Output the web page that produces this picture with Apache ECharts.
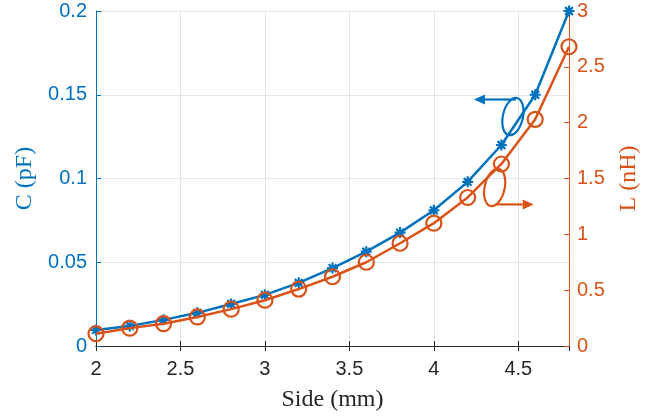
<!DOCTYPE html>
<html>
<head>
<meta charset="utf-8">
<script src="https://cdn.jsdelivr.net/npm/echarts@6/dist/echarts.min.js"></script>
<style>
	html, body { margin: 0; padding: 0; background: #fff; }
	#container { width: 664px; height: 417px; }
</style>
</head>
<body>
<div id="container"></div>
<script>
// 数据
var sideMm = [2, 2.2, 2.4, 2.6, 2.8, 3, 3.2, 3.4, 3.6, 3.8, 4, 4.2, 4.4, 4.6, 4.8];
var capPF = [0.0096, 0.012, 0.0156, 0.0198, 0.0251, 0.0305, 0.0377, 0.0465, 0.0563, 0.0677, 0.081, 0.098, 0.12, 0.15, 0.2];
var indNH = [0.11, 0.16, 0.2, 0.26, 0.33, 0.41, 0.51, 0.62, 0.75, 0.92, 1.1, 1.33, 1.63, 2.03, 2.68];

var blue = '#0072BD';
var orange = '#D95319';
var tickFont = 'Liberation Sans, Arial, sans-serif';
var nameFont = 'Liberation Serif, Times New Roman, serif';

function pairs(xs, ys) {
	var res = [];
	for (var i = 0; i < xs.length; i++) {
		res.push([xs[i], ys[i]]);
	}
	return res;
}

// 星号标记
var asterisk = 'path://M5,0L5,10M0,5L10,5M1.5,1.5L8.5,8.5M1.5,8.5L8.5,1.5';

var dom = document.getElementById('container');
var myChart = echarts.init(dom, null, { renderer: 'canvas' });

myChart.setOption({
	animation: false,
	grid: {
		left: 96,
		right: 95,
		top: 11,
		bottom: 71
	},
	xAxis: [
		{
			type: 'value',
			min: 2,
			max: 4.8,
			interval: 0.5,
			name: 'Side (mm)',
			nameLocation: 'middle',
			nameGap: 42,
			nameTextStyle: { color: '#262626', fontFamily: nameFont, fontSize: 24 },
			axisLine: { lineStyle: { color: '#262626', width: 1 } },
			axisTick: { inside: true, length: 5, lineStyle: { color: '#262626' } },
			axisLabel: { color: '#262626', fontFamily: tickFont, fontSize: 20, margin: 13, showMaxLabel: false },
			splitLine: { show: true, lineStyle: { color: '#e3e3e3', width: 1 } }
		},
		{
			// 上边框
			type: 'value',
			position: 'top',
			min: 2,
			max: 4.8,
			interval: 0.5,
			axisLine: { show: true, lineStyle: { color: '#262626', width: 1 } },
			axisTick: { show: true, inside: true, length: 5, lineStyle: { color: '#262626' } },
			axisLabel: { show: false },
			splitLine: { show: false }
		}
	],
	yAxis: [
		{
			type: 'value',
			position: 'left',
			min: 0,
			max: 0.2,
			interval: 0.05,
			name: 'C (pF)',
			nameLocation: 'middle',
			nameRotate: 90,
			nameGap: 58,
			nameTextStyle: { color: blue, fontFamily: nameFont, fontSize: 24 },
			axisLine: { show: true, lineStyle: { color: blue, width: 1 } },
			axisTick: { show: true, inside: true, length: 5, lineStyle: { color: blue } },
			axisLabel: { color: blue, fontFamily: tickFont, fontSize: 20, margin: 9 },
			splitLine: { show: true, lineStyle: { color: '#dde9f3', width: 1 } }
		},
		{
			type: 'value',
			position: 'right',
			min: 0,
			max: 3,
			interval: 0.5,
			name: 'L (nH)',
			nameLocation: 'middle',
			nameRotate: 90,
			nameGap: 48,
			nameTextStyle: { color: orange, fontFamily: nameFont, fontSize: 24 },
			axisLine: { show: true, lineStyle: { color: orange, width: 1 } },
			axisTick: { show: true, inside: true, length: 5, lineStyle: { color: orange } },
			axisLabel: { color: orange, fontFamily: tickFont, fontSize: 20, margin: 8 },
			splitLine: { show: false }
		}
	],
	series: [
		{
			name: 'C',
			type: 'line',
			xAxisIndex: 0,
			yAxisIndex: 0,
			z: 3,
			symbol: asterisk,
			symbolSize: 11,
			showAllSymbol: true,
			lineStyle: { color: blue, width: 2.5 },
			itemStyle: { color: blue, borderColor: blue, borderWidth: 2.2 },
			data: pairs(sideMm, capPF)
		},
		{
			name: 'L',
			type: 'line',
			xAxisIndex: 0,
			yAxisIndex: 1,
			z: 4,
			symbol: 'circle',
			symbolSize: 15,
			showAllSymbol: true,
			lineStyle: { color: orange, width: 2.5 },
			itemStyle: { color: 'rgba(255,255,255,0)', borderColor: orange, borderWidth: 2.2 },
			data: pairs(sideMm, indNH)
		}
	]
});

// 椭圆+箭头标注（位置按数据坐标换算）
function arrowGroup(color, center, dxLine, dyLine, dxTip) {
	var c = center;
	var y = c[1] + dyLine;
	var x0 = c[0] + dxLine;
	var x1 = c[0] + dxTip;
	var dir = x1 > x0 ? 1 : -1;
	var headLen = 11;
	var headHalf = 5;
	return [
		{
			type: 'ellipse',
			shape: { cx: 0, cy: 0, rx: 10, ry: 19 },
			x: c[0],
			y: c[1],
			rotation: -0.22,
			style: { fill: null, stroke: color, lineWidth: 2.2 },
			z: 10
		},
		{
			type: 'polyline',
			shape: { points: [[x0, y], [x1 - dir * headLen, y]] },
			style: { stroke: color, lineWidth: 2.2 },
			z: 10
		},
		{
			type: 'polygon',
			shape: { points: [[x1, y], [x1 - dir * headLen, y - headHalf], [x1 - dir * headLen, y + headHalf]] },
			style: { fill: color },
			z: 10
		}
	];
}

var blueCenter = myChart.convertToPixel({ xAxisIndex: 0, yAxisIndex: 0 }, [4.468, 0.137]);
var orangeCenter = myChart.convertToPixel({ xAxisIndex: 0, yAxisIndex: 1 }, [4.36, 1.42]);

myChart.setOption({
	graphic: arrowGroup(blue, blueCenter, 3, -17, -39).concat(arrowGroup(orange, orangeCenter, 1, 17, 39))
});

window.onresize = function() {
	myChart.resize();
};
</script>
</body>
</html>
